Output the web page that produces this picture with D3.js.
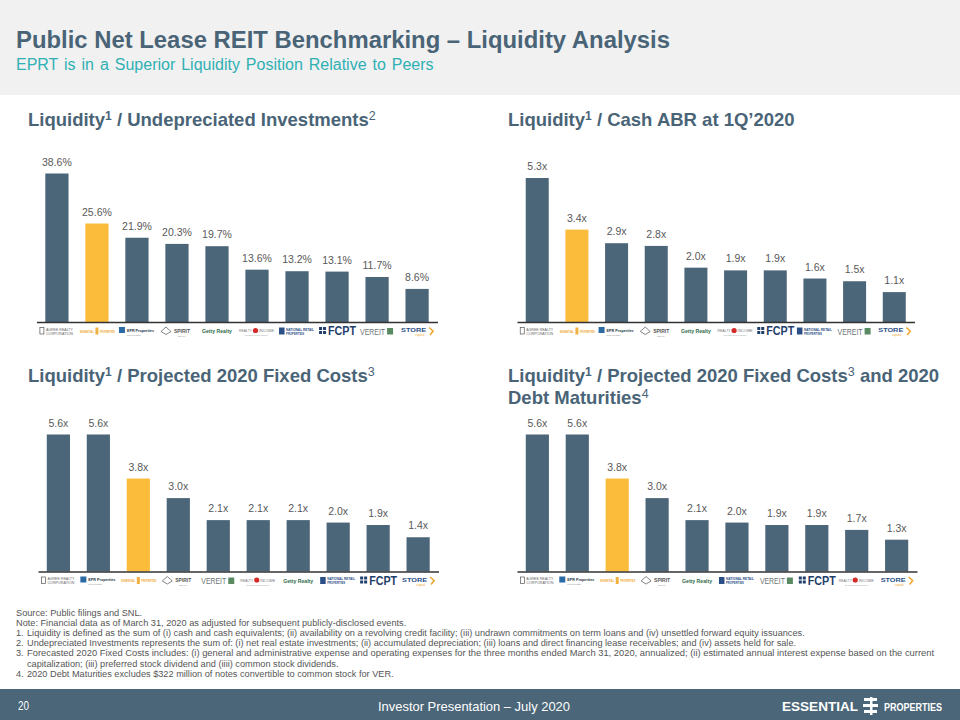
<!DOCTYPE html>
<html><head><meta charset="utf-8">
<script src="https://cdn.jsdelivr.net/npm/d3@7"></script>
<style>
html,body{margin:0;padding:0;background:#fff;}
svg{display:block;font-family:"Liberation Sans",Arial,sans-serif;}
</style></head>
<body>
<svg id="c" width="960" height="720"></svg>
<script>
// ---------- DATA ----------
const panel1Companies = ["AGREE", "ESSENTIAL", "EPR", "SPIRIT", "GETTY", "REALTY INCOME", "NNN", "FCPT", "VEREIT", "STORE"];
const panel1Values = [38.6, 25.6, 21.9, 20.3, 19.7, 13.6, 13.2, 13.1, 11.7, 8.6];
const panel2Companies = ["AGREE", "ESSENTIAL", "EPR", "SPIRIT", "GETTY", "REALTY INCOME", "FCPT", "NNN", "VEREIT", "STORE"];
const panel2Values = [5.3, 3.4, 2.9, 2.8, 2.0, 1.9, 1.9, 1.6, 1.5, 1.1];
const panel3Companies = ["AGREE", "EPR", "ESSENTIAL", "SPIRIT", "VEREIT", "REALTY INCOME", "GETTY", "NNN", "FCPT", "STORE"];
const panel3Values = [5.6, 5.6, 3.8, 3.0, 2.1, 2.1, 2.1, 2.0, 1.9, 1.4];
const panel4Companies = ["AGREE", "EPR", "ESSENTIAL", "SPIRIT", "GETTY", "NNN", "VEREIT", "FCPT", "REALTY INCOME", "STORE"];
const panel4Values = [5.6, 5.6, 3.8, 3.0, 2.1, 2.0, 1.9, 1.9, 1.7, 1.3];
const highlightCompany = "ESSENTIAL";
const footnotes = [
  ["", "Source: Public filings and SNL."],
  ["", "Note: Financial data as of March 31, 2020 as adjusted for subsequent publicly-disclosed events."],
  ["1.", "Liquidity is defined as the sum of (i) cash and  cash equivalents; (ii) availability on a revolving credit facility; (iii) undrawn commitments on term loans and (iv) unsettled forward equity issuances."],
  ["2.", "Undepreciated Investments represents the sum of: (i) net real estate investments; (ii) accumulated depreciation; (iii) loans and direct financing lease receivables; and (iv) assets held for sale."],
  ["3.", "Forecasted 2020  Fixed Costs includes: (i) general and  administrative expense and operating expenses  for the three months ended  March  31, 2020,  annualized;  (ii)  estimated annual interest expense based on the current"],
  ["", "capitalization; (iii) preferred stock dividend and (iiii) common stock dividends."],
  ["4.", "2020 Debt Maturities excludes $322 million of notes convertible to common stock for VER."]
];

// ---------- STYLE ----------
const SLATE = "#4b6579";
const YELLOW = "#fbbc3b";
const TITLE_C = "#4a6477";
const svg = d3.select("#c");

// header
svg.append("rect").attr("x",0).attr("y",0).attr("width",960).attr("height",95).attr("fill","#f1f1f1");
svg.append("text").attr("x",16).attr("y",48).attr("font-size",23.5).attr("font-weight","bold").attr("fill",TITLE_C)
  .attr("textLength",654).attr("lengthAdjust","spacingAndGlyphs")
  .text("Public Net Lease REIT Benchmarking – Liquidity Analysis");
svg.append("text").attr("x",16).attr("y",70).attr("font-size",16).attr("fill","#2fb0b4")
  .attr("word-spacing","1.5px")
  .text("EPRT is in a Superior Liquidity Position Relative to Peers");

// panel titles
function panelTitle(x, y, parts) {
  const t = svg.append("text").attr("x",x).attr("y",y).attr("font-size",18.5).attr("font-weight","bold").attr("fill",TITLE_C);
  parts.forEach(p => {
    const ts = t.append("tspan").text(p[0]);
    if (p[1] === "sup") ts.attr("font-size",12).attr("dy",-6);
    else if (p[1] === "supn") ts.attr("font-size",12.5).attr("font-weight","normal").attr("dy",-6);
    else if (p[1] === "down") ts.attr("dy",6);
  });
  return t;
}
panelTitle(28,126,[["Liquidity"],["1","sup"],[" / Undepreciated Investments","down"],["2","supn"]]);
panelTitle(508,126,[["Liquidity"],["1","sup"],[" / Cash ABR at 1Q’2020","down"]]);
panelTitle(28,382,[["Liquidity"],["1","sup"],[" / Projected 2020 Fixed Costs","down"],["3","supn"]]);
panelTitle(508,382,[["Liquidity"],["1","sup"],[" / Projected 2020 Fixed Costs","down"],["3","supn"],[" and 2020","down"]]);
panelTitle(508,404,[["Debt Maturities"],["4","supn"]]);

// logo drawing (text-based stand-ins)
function drawLogo(g, name, cx, cy) {
  const lg = g.append("g").attr("transform",`translate(${cx},${cy})`);
  const t = (txt, dx, dy, size, fill, weight, len, anchor) => {
    const e = lg.append("text").attr("x",dx).attr("y",dy)
      .attr("font-size",size).attr("fill",fill).attr("font-weight",weight||"normal")
      .attr("text-anchor",anchor||"start").text(txt);
    if (len) e.attr("textLength",len).attr("lengthAdjust","spacingAndGlyphs");
    return e;
  };
  switch(name) {
    case "AGREE":
      lg.append("rect").attr("x",-17).attr("y",-3.5).attr("width",4).attr("height",6.5).attr("fill","none").attr("stroke","#555").attr("stroke-width",0.7);
      t("AGREE REALTY",-11,-0.5,3.6,"#666","normal",27);
      t("CORPORATION",-11,3.5,3.6,"#666","normal",27);
      break;
    case "ESSENTIAL":
      t("ESSENTIAL",-17,1.8,2.8,"#f0a830","bold",14);
      lg.append("rect").attr("x",-1.5).attr("y",-3.5).attr("width",3).attr("height",7).attr("fill","#f0b040");
      t("PROPERTIES",3,1.8,2.6,"#f0a830","bold",15);
      break;
    case "EPR":
      lg.append("rect").attr("x",-18).attr("y",-4).attr("width",6).attr("height",6).attr("fill","#2c6aa6");
      t("EPR Properties",-10,0.5,3.8,"#234","bold",27);
      t("Rental Real Estate",-10,4.5,2.2,"#888","normal",14);
      break;
    case "SPIRIT":
      lg.append("path").attr("d","M-16,0.5 L-11,-4 L-6,0.5 L-11,3.5 Z").attr("fill","none").attr("stroke","#777").attr("stroke-width",0.9);
      t("SPIRIT",-3,1.8,5,"#555","bold",16);
      t("REALTY",1,5.5,2.5,"#888","normal",8);
      break;
    case "GETTY":
      t("Getty Realty",0,2,5.3,"#2f6b4a","bold",30,"middle");
      break;
    case "REALTY INCOME":
      t("REALTY",-18,1,3.3,"#777","normal",13);
      lg.append("circle").attr("cx",-1.5).attr("cy",-0.5).attr("r",2.6).attr("fill","#d42a2a");
      t("INCOME",2,1,3.4,"#777","normal",15);
      t("The Monthly Dividend Company®",0,5,1.8,"#999","normal",24,"middle");
      break;
    case "NNN":
      lg.append("rect").attr("x",-18).attr("y",-3.5).attr("width",5.5).attr("height",7).attr("fill","#2a4f86");
      t("NATIONAL RETAIL",-11,-0.5,3.2,"#2a4f86","bold",28);
      t("PROPERTIES",-11,3.5,3.2,"#2a4f86","bold",18);
      break;
    case "FCPT":
      lg.append("g").attr("fill","#1f3e6b").selectAll("rect").data([[-18,-4],[-14,-4],[-18,0],[-14,0]]).join("rect")
        .attr("x",d=>d[0]).attr("y",d=>d[1]).attr("width",3).attr("height",3);
      t("FCPT",-9,4.2,12,"#1f3e6b","bold",28);
      break;
    case "VEREIT":
      t("VEREIT",-17,3.5,9,"#6b7478","normal",25);
      lg.append("rect").attr("x",10).attr("y",-3).attr("width",6).attr("height",6.5).attr("fill","#5a8a62");
      break;
    case "STORE":
      t("STORE",-16,1,5.5,"#2a4f86","bold",25);
      t("capital",-2,5,2.8,"#f0a830","normal",9);
      lg.append("path").attr("d","M12,-3.5 L16,0 L13,4").attr("fill","none").attr("stroke","#f0a830").attr("stroke-width",1.6);
      break;
  }
}

// generic panel
function drawPanel(companies, values, cfg) {
  const g = svg.append("g");
  const x = d3.scaleBand().domain(companies).range([cfg.x0, cfg.x1]).paddingInner(0.42).paddingOuter(0.22);
  const y = d3.scaleLinear().domain([0, d3.max(values)]).range([cfg.base, cfg.top]);
  const data = companies.map((c,i) => ({c, v: values[i]}));
  g.selectAll("rect.bar").data(data).join("rect").attr("class","bar")
    .attr("x", d => x(d.c)).attr("width", x.bandwidth())
    .attr("y", d => y(d.v)).attr("height", d => y(0) - y(d.v))
    .attr("fill", d => d.c === highlightCompany ? YELLOW : SLATE);
  g.selectAll("text.val").data(data).join("text").attr("class","val")
    .attr("x", d => x(d.c) + x.bandwidth()/2).attr("y", d => y(d.v) - 8)
    .attr("text-anchor","middle").attr("font-size",10.5).attr("fill","#595959")
    .text(d => cfg.fmt(d.v));
  const ax = g.append("g").attr("transform",`translate(0,${cfg.base})`)
    .call(d3.axisBottom(x).tickSize(0).tickSizeOuter(0).tickFormat(""));
  ax.select(".domain").attr("stroke","#333").attr("stroke-width",1.5);
  companies.forEach(c => drawLogo(g, c, x(c) + x.bandwidth()/2, cfg.base + 9));
}
const pct = v => v.toFixed(1) + "%";
const mult = v => v.toFixed(1) + "x";
drawPanel(panel1Companies, panel1Values, {x0:36.5, x1:437.5, base:322, top:173.5, fmt:pct});
drawPanel(panel2Companies, panel2Values, {x0:517, x1:914.5, base:322, top:178, fmt:mult});
drawPanel(panel3Companies, panel3Values, {x0:38, x1:438.5, base:571.5, top:434.5, fmt:mult});
drawPanel(panel4Companies, panel4Values, {x0:517, x1:917, base:571.5, top:434.5, fmt:mult});

// footnotes
const fn = svg.append("g").attr("font-size",9.2).attr("fill","#555");
footnotes.forEach((f,i) => {
  const yy = 616 + i*10.1;
  if (f[0]) fn.append("text").attr("x",16).attr("y",yy).text(f[0]);
  const e = fn.append("text").attr("x", (f[0] || i===5) ? 27 : 16).attr("y",yy).text(f[1]);
  if (i === 4) e.attr("textLength",907).attr("lengthAdjust","spacingAndGlyphs");
});

// footer
svg.append("rect").attr("x",0).attr("y",689).attr("width",960).attr("height",31).attr("fill","#4b6678");
svg.append("text").attr("x",18).attr("y",710).attr("font-size",12).attr("fill","#fff")
  .attr("textLength",11).attr("lengthAdjust","spacingAndGlyphs").text("20");
svg.append("text").attr("x",378).attr("y",711).attr("font-size",13).attr("fill","#fff")
  .attr("textLength",192).attr("lengthAdjust","spacingAndGlyphs").text("Investor Presentation – July 2020");
const lgF = svg.append("g").attr("fill","#fff").attr("font-weight","bold");
lgF.append("text").attr("x",782).attr("y",711).attr("font-size",12)
  .attr("textLength",76).attr("lengthAdjust","spacingAndGlyphs").text("ESSENTIAL");
lgF.append("text").attr("x",884).attr("y",711).attr("font-size",11)
  .attr("textLength",58).attr("lengthAdjust","spacingAndGlyphs").text("PROPERTIES");
lgF.append("rect").attr("x",870).attr("y",697).attr("width",2.5).attr("height",18);
[[864,698,13],[863,704,15],[864,710,13]].forEach(d => lgF.append("rect").attr("x",d[0]).attr("y",d[1]).attr("width",d[2]).attr("height",3));
</script>
</body></html>
